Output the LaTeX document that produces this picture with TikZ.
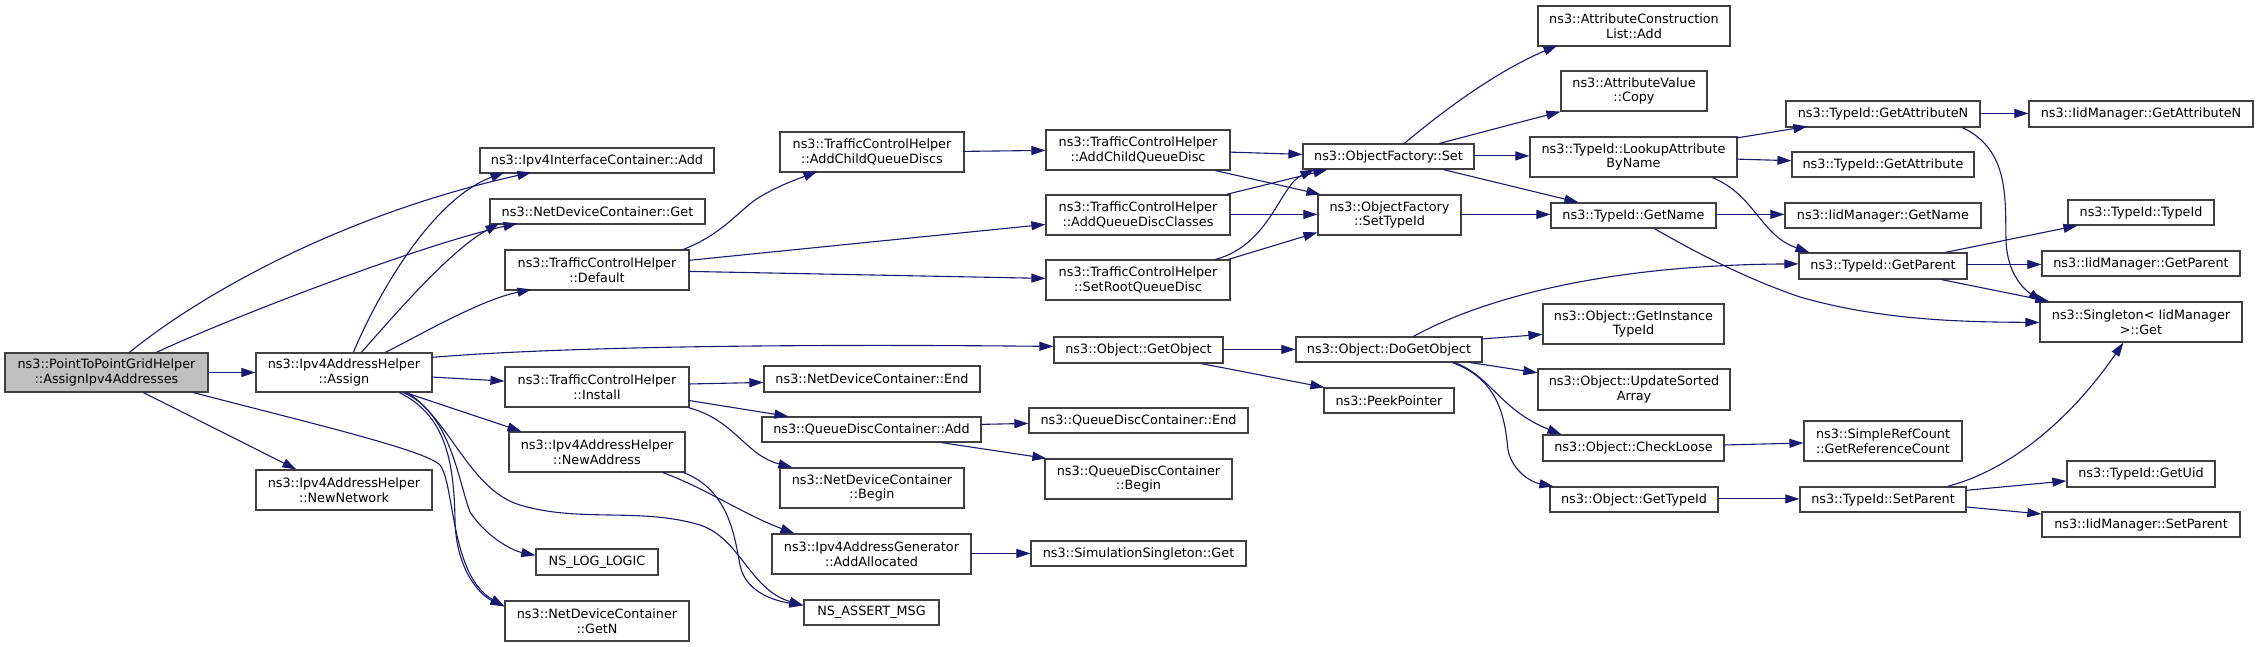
\documentclass[tikz,border=0pt]{standalone}
\usepackage{fontspec}
\setmainfont{DejaVu Sans}
\usetikzlibrary{arrows.meta,calc}
\definecolor{edgeblue}{HTML}{191970}
\definecolor{rootfill}{HTML}{BFBFBF}
\definecolor{boxline}{HTML}{404040}
\newcommand\mynode[7][]{\node[box,#1,minimum width={#5-#3},minimum height={#6-#4}] (#2) at ({(#3+#5)/2},{(#4+#6)/2}) {#7};}
\begin{document}
\begin{tikzpicture}[x=1pt,y=-1pt,
  box/.style={draw=boxline,line width=1.2pt,fill=white,inner sep=0pt,align=center,
    font=\fontsize{12.8}{14.6}\selectfont},
  call/.style={draw=edgeblue,line width=1.1pt,-{Triangle[length=14pt,width=9pt]}}]
\fill[white] (0,0) rectangle (2259,647);
\useasboundingbox (0,0) rectangle (2259,647);
% nodes
\mynode[fill=rootfill]{a0}{5}{353}{208}{392}{ns3::PointToPointGridHelper\\::AssignIpv4Addresses}
\mynode{as}{256}{353}{432}{392}{ns3::Ipv4AddressHelper\\::Assign}
\mynode{nn}{256}{470}{432}{510}{ns3::Ipv4AddressHelper\\::NewNetwork}
\mynode{ica}{480}{148}{714}{173}{ns3::Ipv4InterfaceContainer::Add}
\mynode{ndg}{490}{199}{705}{224}{ns3::NetDeviceContainer::Get}
\mynode{df}{505}{250}{689}{290}{ns3::TrafficControlHelper\\::Default}
\mynode{in}{505}{367}{689}{407}{ns3::TrafficControlHelper\\::Install}
\mynode{na}{509}{432}{685}{472}{ns3::Ipv4AddressHelper\\::NewAddress}
\mynode{log}{536}{549}{658}{575}{NS\_LOG\_LOGIC}
\mynode{gn}{505}{601}{689}{641}{ns3::NetDeviceContainer\\::GetN}
\mynode{acqs}{780}{132}{964}{172}{ns3::TrafficControlHelper\\::AddChildQueueDiscs}
\mynode{nde}{764}{366}{980}{392}{ns3::NetDeviceContainer::End}
\mynode{qa}{762}{417}{981}{442}{ns3::QueueDiscContainer::Add}
\mynode{ndb}{780}{468}{964}{508}{ns3::NetDeviceContainer\\::Begin}
\mynode{aa}{772}{534}{971}{574}{ns3::Ipv4AddressGenerator\\::AddAllocated}
\mynode{am}{804}{600}{939}{625}{NS\_ASSERT\_MSG}
\mynode{acq}{1046}{130}{1230}{170}{ns3::TrafficControlHelper\\::AddChildQueueDisc}
\mynode{aqc}{1046}{195}{1230}{235}{ns3::TrafficControlHelper\\::AddQueueDiscClasses}
\mynode{srq}{1046}{260}{1230}{300}{ns3::TrafficControlHelper\\::SetRootQueueDisc}
\mynode{go}{1054}{337}{1223}{363}{ns3::Object::GetObject}
\mynode{qe}{1029}{408}{1248}{433}{ns3::QueueDiscContainer::End}
\mynode{qb}{1045}{459}{1232}{499}{ns3::QueueDiscContainer\\::Begin}
\mynode{ssg}{1031}{541}{1246}{566}{ns3::SimulationSingleton::Get}
\mynode{ofs}{1303}{144}{1474}{169}{ns3::ObjectFactory::Set}
\mynode{oft}{1318}{195}{1461}{235}{ns3::ObjectFactory\\::SetTypeId}
\mynode{dgo}{1296}{337}{1482}{362}{ns3::Object::DoGetObject}
\mynode{pp}{1324}{388}{1454}{413}{ns3::PeekPointer}
\mynode{acl}{1538}{6}{1730}{46}{ns3::AttributeConstruction\\List::Add}
\mynode{avc}{1561}{71}{1707}{111}{ns3::AttributeValue\\::Copy}
\mynode{la}{1530}{137}{1737}{177}{ns3::TypeId::LookupAttribute\\ByName}
\mynode{tgn}{1551}{203}{1716}{228}{ns3::TypeId::GetName}
\mynode{git}{1543}{304}{1724}{344}{ns3::Object::GetInstance\\TypeId}
\mynode{usa}{1538}{369}{1730}{410}{ns3::Object::UpdateSorted\\Array}
\mynode{cl}{1543}{435}{1724}{461}{ns3::Object::CheckLoose}
\mynode{gti}{1550}{487}{1718}{512}{ns3::Object::GetTypeId}
\mynode{gan}{1786}{101}{1980}{127}{ns3::TypeId::GetAttributeN}
\mynode{ga}{1792}{152}{1974}{177}{ns3::TypeId::GetAttribute}
\mynode{ign}{1785}{203}{1981}{228}{ns3::IidManager::GetName}
\mynode{gp}{1799}{253}{1967}{279}{ns3::TypeId::GetParent}
\mynode{grc}{1804}{421}{1962}{461}{ns3::SimpleRefCount\\::GetReferenceCount}
\mynode{sp}{1800}{487}{1966}{512}{ns3::TypeId::SetParent}
\mynode{igan}{2029}{101}{2253}{127}{ns3::IidManager::GetAttributeN}
\mynode{tti}{2068}{200}{2214}{225}{ns3::TypeId::TypeId}
\mynode{igp}{2042}{251}{2240}{276}{ns3::IidManager::GetParent}
\mynode{sg}{2040}{302}{2242}{342}{ns3::Singleton< IidManager\\>::Get}
\mynode{gu}{2067}{461}{2215}{487}{ns3::TypeId::GetUid}
\mynode{isp}{2042}{512}{2240}{537}{ns3::IidManager::SetParent}
% edges
\draw[call] ($(a0.north west)+(125,0)$) .. controls (200,295) and (340,215) .. ($(ica.north west)+(52,25)$);
\draw[call] ($(a0.north west)+(152,0)$) .. controls (230,318) and (420,245) .. ($(ndg.north west)+(28,25)$);
\draw[call] (a0.east) -- (as.west);
\draw[call] ($(a0.south west)+(139,0)$) -- ($(nn.north west)+(41,0)$);
\draw[call] ($(a0.south west)+(189,0)$) .. controls (310,423) and (425,450) .. (440,465) .. controls (455,485) and (450,575) .. ($(gn.north west)+(0,6)$);
\draw[call] ($(as.north west)+(98,0)$) .. controls (375,300) and (430,200) .. ($(ica.north west)+(25,25)$);
\draw[call] ($(as.north west)+(106,0)$) .. controls (390,320) and (450,250) .. ($(ndg.north west)+(10,25)$);
\draw[call] ($(as.north west)+(130,0)$) .. controls (420,335) and (480,300) .. ($(df.north west)+(27,40)$);
\draw[call] ($(as.north west)+(176,5)$) .. controls (520,350) and (700,343) .. ($(go.north west)+(0,10)$);
\draw[call] ($(as.north west)+(176,24.6)$) -- ($(in.north west)+(0,14.7)$);
\draw[call] ($(as.south west)+(150,0)$) -- ($(na.north west)+(13,0)$);
\draw[call] ($(as.south west)+(148,0)$) .. controls (450,412) and (458,480) .. (470,512) .. controls (485,535) and (510,550) .. ($(log.north west)+(0,7)$);
\draw[call] ($(as.south west)+(144,0)$) .. controls (445,415) and (454,460) .. (455,520) .. controls (456,570) and (480,595) .. ($(gn.north west)+(0,6)$);
\draw[call] ($(as.south west)+(152,0)$) .. controls (450,420) and (470,490) .. (520,505) .. controls (580,523) and (640,507) .. (700,525) .. controls (740,538) and (750,590) .. ($(am.north west)+(0,6)$);
\draw[call] ($(df.north west)+(179,0)$) .. controls (720,235) and (735,215) .. (755,200) .. controls (775,187) and (795,180) .. ($(acqs.north west)+(38,40)$);
\draw[call] ($(df.north west)+(184,11)$) -- ($(aqc.north west)+(0,30)$);
\draw[call] ($(df.north west)+(184,22)$) -- ($(srq.north west)+(0,19)$);
\draw[call] ($(in.north west)+(184,17.6)$) -- ($(nde.north west)+(0,17)$);
\draw[call] ($(in.north west)+(184,34)$) -- ($(qa.north west)+(27,0)$);
\draw[call] ($(in.south west)+(184,0)$) .. controls (735,420) and (745,455) .. ($(ndb.north west)+(13,0)$);
\draw[call] ($(na.south west)+(154.5,0)$) .. controls (705,488) and (745,515) .. ($(aa.north west)+(23,0)$);
\draw[call] ($(na.south west)+(175,0)$) .. controls (730,490) and (735,540) .. (740,565) .. controls (745,590) and (770,600) .. ($(am.north west)+(0,6)$);
\draw[call] ($(qa.north west)+(219,8)$) -- ($(qe.north west)+(0,16)$);
\draw[call] ($(qa.south west)+(180,0)$) -- ($(qb.north west)+(2,0)$);
\draw[call] ($(acqs.north west)+(184,20)$) -- ($(acq.north west)+(0,21)$);
\draw[call] ($(acq.north west)+(184,22.7)$) -- ($(ofs.north west)+(0,11)$);
\draw[call] ($(acq.south west)+(170,0)$) -- ($(oft.north west)+(3,0)$);
\draw[call] ($(aqc.north west)+(181,0)$) -- ($(ofs.south west)+(25,0)$);
\draw[call] ($(aqc.north west)+(184,20)$) -- ($(oft.north west)+(0,20)$);
\draw[call] ($(srq.north west)+(170,0)$) .. controls (1270,245) and (1280,185) .. ($(ofs.south west)+(12,0)$);
\draw[call] ($(srq.north west)+(183,0)$) -- ($(oft.north west)+(0,38)$);
\draw[call] ($(ofs.north west)+(102,0)$) .. controls (1450,105) and (1500,70) .. ($(acl.north west)+(20,40)$);
\draw[call] ($(ofs.north west)+(137,0)$) -- (avc.south west);
\draw[call] ($(ofs.north west)+(171,12.5)$) -- ($(la.north west)+(0,19.5)$);
\draw[call] ($(ofs.south west)+(141,0)$) -- ($(tgn.north west)+(28,0)$);
\draw[call] ($(oft.north west)+(143,20)$) -- ($(tgn.north west)+(0,12)$);
\draw[call] ($(la.north west)+(207,1.6)$) -- ($(gan.north west)+(22,26)$);
\draw[call] ($(la.north west)+(207,22.7)$) -- ($(ga.north west)+(0,9.3)$);
\draw[call] ($(la.south west)+(183,0)$) .. controls (1755,195) and (1760,235) .. ($(gp.north west)+(11,0)$);
\draw[call] ($(tgn.north west)+(165,12)$) -- ($(ign.north west)+(0,12)$);
\draw[call] ($(tgn.south west)+(104,0)$) .. controls (1700,255) and (1750,280) .. (1800,297) .. controls (1880,320) and (1960,322) .. ($(sg.north west)+(0,21)$);
\draw[call] ($(gan.north west)+(194,13)$) -- ($(igan.north west)+(0,13)$);
\draw[call] ($(gan.south west)+(177,0)$) .. controls (2010,150) and (2005,200) .. (2006,240) .. controls (2007,275) and (2025,290) .. ($(sg.north west)+(3,0)$);
\draw[call] ($(gp.north west)+(147,0)$) -- ($(tti.south west)+(10,0)$);
\draw[call] ($(gp.north west)+(168,12)$) -- ($(igp.north west)+(0,14)$);
\draw[call] ($(gp.south west)+(143,0)$) -- ($(sg.north west)+(10,0)$);
\draw[call] ($(dgo.north west)+(118,0)$) .. controls (1480,300) and (1600,265) .. ($(gp.north west)+(0,11.5)$);
\draw[call] ($(dgo.north west)+(186,2.6)$) -- ($(git.north west)+(0,31)$);
\draw[call] ($(dgo.south west)+(175,0)$) -- ($(usa.north west)+(0,4.4)$);
\draw[call] ($(dgo.south west)+(159,0)$) .. controls (1490,375) and (1500,410) .. ($(cl.north west)+(19,0)$);
\draw[call] ($(dgo.south west)+(157,0)$) .. controls (1500,380) and (1505,420) .. (1508,450) .. controls (1512,470) and (1530,482) .. ($(gti.north west)+(4,0)$);
\draw[call] ($(go.north west)+(169,13)$) -- ($(dgo.north west)+(0,13)$);
\draw[call] ($(go.south west)+(148,0)$) -- ($(pp.north west)+(1,0)$);
\draw[call] ($(cl.north west)+(181,10.6)$) -- ($(grc.north west)+(0,22.6)$);
\draw[call] ($(gti.north west)+(168,12.5)$) -- ($(sp.north west)+(0,12.5)$);
\draw[call] ($(sp.north west)+(148,0)$) .. controls (2010,470) and (2070,420) .. ($(sg.south west)+(84,0)$);
\draw[call] ($(sp.north west)+(166,4)$) -- ($(gu.north west)+(0,20.5)$);
\draw[call] ($(sp.north west)+(166,20.5)$) -- ($(isp.north west)+(0,2.6)$);
\draw[call] ($(aa.north west)+(199,20)$) -- ($(ssg.north west)+(0,13)$);
\end{tikzpicture}
\end{document}
